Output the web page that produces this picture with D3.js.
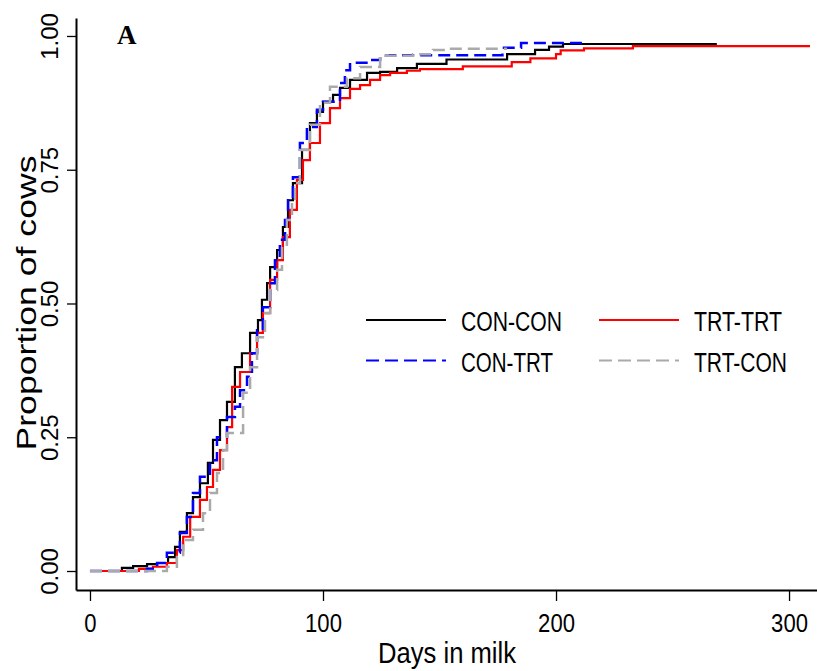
<!DOCTYPE html>
<html>
<head>
<meta charset="utf-8">
<script src="https://cdn.jsdelivr.net/npm/d3@7"></script>
<style>
  body { margin: 0; background: #fff; }
  svg { display: block; }
  text { font-family: "Liberation Sans", Arial, sans-serif; }
</style>
</head>
<body>
<svg id="chart" width="817" height="671"></svg>
<script>
// ---- data (days in milk, cumulative proportion) ----
const seriesNames = ["CON-CON", "TRT-TRT", "CON-TRT", "TRT-CON"];
const seriesColors = ["#000000", "#ff0000", "#0000ff", "#aaaaaa"];
const seriesDashed = [false, false, true, true];

const conCon = [[0,0],[13.7,0.006],[18.5,0.009],[24.5,0.013],[28.8,0.015],[33.5,0.026],[36.5,0.045],[38.6,0.073],[41.6,0.108],[44.2,0.138],[47.2,0.164],[50.6,0.202],[52.8,0.245],[55.8,0.282],[58.8,0.316],[62.2,0.381],[65.2,0.407],[68.7,0.445],[72.1,0.469],[73.8,0.507],[76,0.538],[77.3,0.568],[80.3,0.6],[82.8,0.643],[85,0.693],[87.1,0.725],[91,0.787],[94.4,0.837],[97.4,0.858],[100,0.877],[104.3,0.89],[107.3,0.903],[111.6,0.918],[118.9,0.931],[124.5,0.933],[131.8,0.94],[140.3,0.948],[153,0.956],[179,0.966],[191,0.974],[197,0.98],[203,0.985],[269,0.985]];

const trtTrt = [[0,0],[21,0.004],[27,0.008],[33,0.015],[37.3,0.039],[40,0.064],[43,0.101],[47.2,0.133],[50.2,0.157],[52.8,0.189],[55.8,0.226],[58.8,0.269],[61,0.344],[64.4,0.372],[68.7,0.407],[71.7,0.445],[74.2,0.482],[77.3,0.544],[80.3,0.581],[82.8,0.624],[85.8,0.675],[88.8,0.731],[91.4,0.768],[94.4,0.8],[98.7,0.837],[103,0.865],[107.3,0.884],[111.6,0.901],[115.9,0.908],[120.2,0.918],[124.5,0.927],[128.8,0.931],[136,0.935],[141.6,0.938],[160,0.943],[181,0.951],[189,0.958],[200,0.966],[202,0.973],[212,0.977],[233,0.981],[309,0.981]];

const conTrt = [[0,0],[24.5,0.004],[28.8,0.015],[33,0.034],[38.6,0.071],[41.6,0.101],[44.2,0.146],[47.2,0.176],[51.5,0.207],[54.5,0.25],[58.8,0.288],[62.2,0.307],[64.4,0.338],[67.4,0.363],[69.5,0.407],[71.7,0.45],[74.2,0.493],[77.3,0.538],[79.4,0.581],[81.5,0.619],[83.7,0.656],[85,0.693],[87.1,0.736],[90.1,0.8],[93.1,0.83],[97.4,0.862],[100,0.877],[107.3,0.912],[109.4,0.936],[111.6,0.95],[120,0.955],[124.5,0.963],[128.8,0.964],[177,0.978],[185,0.987],[213,0.987]];

const trtCon = [[0,0],[33,0.008],[37.3,0.026],[40,0.058],[44.2,0.077],[48.5,0.108],[51.5,0.146],[54.5,0.183],[57.1,0.226],[58.8,0.258],[65.7,0.333],[68.7,0.381],[71.7,0.437],[75.1,0.482],[77.3,0.525],[80.3,0.563],[82.4,0.606],[84.5,0.656],[86.7,0.693],[88,0.725],[90.1,0.787],[94.4,0.834],[98.7,0.875],[103,0.905],[110.3,0.921],[115.9,0.942],[124.5,0.963],[138.6,0.966],[147.2,0.974],[153,0.976],[179,0.976]];

const xTicks = [0, 100, 200, 300];
const yTicks = [0, 0.25, 0.5, 0.75, 1];
const xTitle = "Days in milk";
const yTitle = "Proportion of cows";
const panelLabel = "A";

const seriesData = { "CON-CON": conCon, "TRT-TRT": trtTrt, "CON-TRT": conTrt, "TRT-CON": trtCon };

// ---- drawing ----
const svg = d3.select("#chart");
const x = d3.scaleLinear().domain([-6, 312]).range([76, 817]);
const y = d3.scaleLinear().domain([-0.0355, 1.0336]).range([590, 18]);

const line = d3.line().x(d => x(d[0])).y(d => y(d[1])).curve(d3.curveStepAfter);
seriesNames.forEach((name, i) => {
  svg.append("path")
    .datum(seriesData[name])
    .attr("d", line)
    .attr("fill", "none")
    .attr("stroke", seriesColors[i])
    .attr("stroke-width", seriesDashed[i] ? 2.5 : 2.2)
    .attr("stroke-dasharray", seriesDashed[i] ? "12,6" : null);
});

// x axis
const gx = svg.append("g").attr("transform", "translate(0,590)")
  .call(d3.axisBottom(x).tickValues(xTicks).tickFormat(d3.format("d")).tickSizeOuter(0).tickSizeInner(11));
gx.select(".domain").attr("stroke", "#000").attr("stroke-width", 2);
gx.selectAll(".tick line").attr("stroke", "#000").attr("stroke-width", 1.3);
gx.selectAll(".tick text")
  .attr("fill", "#000")
  .attr("font-size", 26)
  .attr("y", 0).attr("dy", null)
  .attr("transform", "translate(0,42) scale(0.85,1)")
  .style("font-family", "'Liberation Sans', Arial, sans-serif");

// y axis
const gy = svg.append("g").attr("transform", "translate(76,0)")
  .call(d3.axisLeft(y).tickValues(yTicks).tickFormat(d3.format(".2f")).tickSizeOuter(0).tickSizeInner(9));
gy.select(".domain").attr("stroke", "#000").attr("stroke-width", 2);
gy.selectAll(".tick line").attr("stroke", "#000").attr("stroke-width", 1.3);
gy.selectAll(".tick text")
  .attr("fill", "#000")
  .attr("font-size", 24)
  .attr("x", 0).attr("y", 0).attr("dy", null)
  .attr("text-anchor", "middle")
  .attr("transform", "translate(-18,0) rotate(-90)")
  .style("font-family", "'Liberation Sans', Arial, sans-serif");

// axis titles
svg.append("text")
  .attr("x", 447).attr("y", 663)
  .attr("text-anchor", "middle")
  .attr("font-size", 29)
  .attr("textLength", 138).attr("lengthAdjust", "spacingAndGlyphs")
  .text(xTitle);

svg.append("text")
  .attr("transform", "translate(36,303) rotate(-90)")
  .attr("text-anchor", "middle")
  .attr("font-size", 27)
  .attr("textLength", 295).attr("lengthAdjust", "spacingAndGlyphs")
  .text(yTitle);

// panel label
svg.append("text")
  .attr("x", 117).attr("y", 44)
  .style("font-family", "'Liberation Serif', 'Times New Roman', serif")
  .attr("font-weight", "bold")
  .attr("font-size", 27)
  .text(panelLabel);

// legend
const legendPos = [
  { lx: 366, tx: 461, y: 320, w: 101 },
  { lx: 599, tx: 694, y: 320, w: 88 },
  { lx: 366, tx: 461, y: 360.5, w: 92 },
  { lx: 599, tx: 694, y: 360.5, w: 93 }
];
seriesNames.forEach((name, i) => {
  const p = legendPos[i];
  svg.append("line")
    .attr("x1", p.lx).attr("x2", p.lx + 80)
    .attr("y1", p.y).attr("y2", p.y)
    .attr("stroke", seriesColors[i]).attr("stroke-width", 2.2)
    .attr("stroke-dasharray", seriesDashed[i] ? "13,6" : null);
  svg.append("text")
    .attr("x", p.tx).attr("y", p.y + 11)
    .attr("font-size", 27)
    .attr("textLength", p.w).attr("lengthAdjust", "spacingAndGlyphs")
    .text(name);
});
</script>
</body>
</html>
